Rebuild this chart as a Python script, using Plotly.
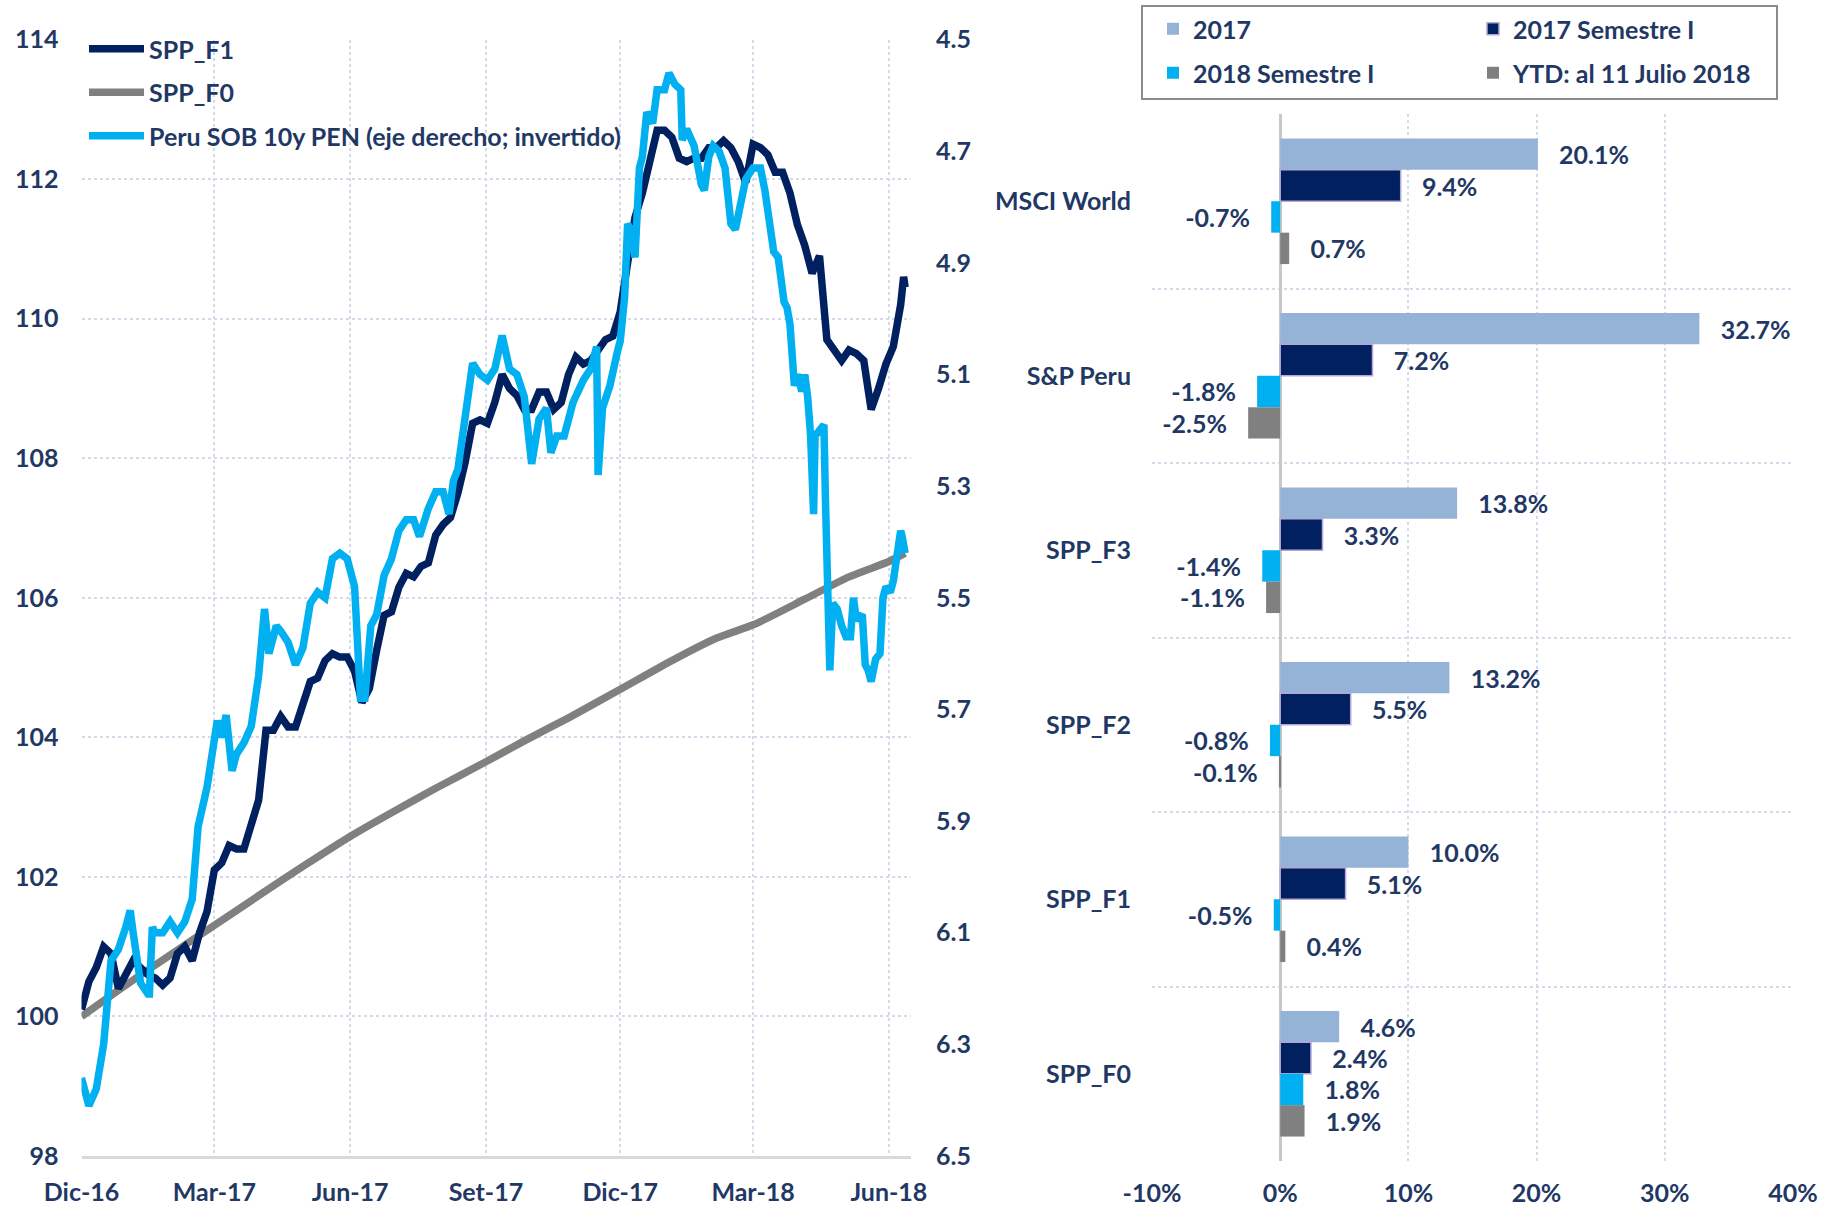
import pandas as pd
import plotly.graph_objects as go

# ---------------- DATA ----------------
BASE_DATE = "2016-12-30"

# SPP_F1 (left axis), sampled every 5 days from 30-Dec-2016
f1_days = list(range(0, 556, 5)) + [557, 558]
f1_vals = [
    100.1, 100.5, 100.7, 101.0, 100.9, 100.4, 100.6, 100.8, 100.7, 100.6,
    100.55, 100.45, 100.55, 100.9, 101.0, 100.8, 101.2, 101.5, 102.1, 102.2,
    102.45, 102.4, 102.4, 102.75, 103.1, 104.1, 104.1, 104.3, 104.15, 104.15,
    104.45, 104.8, 104.85, 105.1, 105.2, 105.15, 105.15, 104.95, 104.5, 104.7,
    105.25, 105.75, 105.8, 106.15, 106.35, 106.3, 106.45, 106.5, 106.9, 107.05,
    107.15, 107.5, 107.95, 108.5, 108.55, 108.5, 108.8, 109.2, 109.0, 108.9,
    108.7, 108.7, 108.95, 108.95, 108.7, 108.8, 109.2, 109.45, 109.35, 109.4,
    109.55, 109.7, 109.75, 110.1, 110.8, 111.45, 111.8, 112.3, 112.7, 112.7,
    112.6, 112.3, 112.25, 112.3, 112.3, 112.45, 112.45, 112.55, 112.45, 112.25,
    111.95, 112.5, 112.45, 112.35, 112.1, 112.1, 111.8, 111.35, 111.05, 110.65,
    110.9, 109.7, 109.55, 109.4, 109.55, 109.5, 109.4, 108.7, 109.0, 109.35,
    109.6, 110.2, 110.6, 110.45,
]

# SPP_F0 (left axis)
f0_days = [0, 30, 60, 91, 120, 150, 182, 210, 240, 274, 300, 330, 366, 400,
           430, 456, 490, 520, 547, 558]
f0_vals = [100.0, 100.45, 100.88, 101.32, 101.73, 102.15, 102.58, 102.92,
           103.27, 103.65, 103.95, 104.28, 104.7, 105.1, 105.42, 105.62,
           105.98, 106.3, 106.52, 106.64]

# Peru SOB 10y PEN yield (right axis, inverted)
sob_days = [
    0, 5, 10, 15, 20, 25, 30, 33, 35, 40, 45, 46, 48, 50, 55, 60, 65, 70, 75, 79,
    85, 90, 92, 95, 98, 102, 105, 110, 115, 120, 124, 127, 132, 135, 140, 145, 150,
    155, 160, 165, 170, 175, 180, 185, 189, 192, 196, 200, 205, 210, 215, 220, 225,
    229, 235, 240, 245, 249, 252, 255, 260, 265, 270, 275, 280, 285, 290, 295, 300,
    302, 305, 310, 315, 318, 322, 327, 333, 340, 345, 349, 350, 353, 358, 363, 365,
    368, 370, 372, 375, 378, 380, 383, 387, 390, 395, 398, 402, 406, 407, 410, 415,
    420, 422, 425, 428, 432, 436, 438, 440, 443, 446, 450, 455, 460, 463, 466, 469,
    472, 476, 478, 480, 483, 485, 488, 490, 492, 494, 496, 497, 500, 503, 504, 506,
    507, 509, 512, 515, 518, 521, 523, 525, 529, 531, 533, 535, 538, 541, 543, 545,
    548, 550, 553, 555, 556, 558,
]
sob_yld = [
    6.36, 6.41, 6.38, 6.30, 6.15, 6.13, 6.09, 6.06, 6.10, 6.19, 6.21, 6.21, 6.09,
    6.10, 6.10, 6.08, 6.10, 6.08, 6.04, 5.91,
    5.84, 5.74, 5.72, 5.75, 5.71, 5.81, 5.78, 5.76, 5.73, 5.64, 5.52, 5.60, 5.55,
    5.56, 5.58, 5.62, 5.59,
    5.51, 5.49, 5.50, 5.43, 5.42, 5.43, 5.48, 5.68, 5.68, 5.55, 5.53, 5.46, 5.43,
    5.38, 5.36, 5.36,
    5.39, 5.34, 5.31, 5.31, 5.35, 5.29, 5.27, 5.17, 5.08, 5.10, 5.11, 5.09, 5.03,
    5.09, 5.10, 5.14,
    5.20, 5.26, 5.18, 5.16, 5.24, 5.21, 5.21, 5.15, 5.11, 5.09, 5.05, 5.28, 5.16,
    5.12, 5.06, 5.04,
    4.96, 4.83, 4.84, 4.89, 4.73, 4.71, 4.63, 4.65, 4.59, 4.59, 4.56, 4.58, 4.59,
    4.68, 4.66, 4.69,
    4.76, 4.77, 4.71, 4.69, 4.70, 4.73, 4.78, 4.83, 4.84, 4.80, 4.75, 4.73, 4.73,
    4.77, 4.82, 4.88,
    4.89, 4.97, 4.98, 5.01, 5.12, 5.10, 5.13, 5.10, 5.14, 5.21, 5.35, 5.21, 5.20,
    5.19, 5.32, 5.49,
    5.63, 5.51, 5.52, 5.55, 5.57, 5.57, 5.50, 5.54, 5.53, 5.62, 5.63, 5.65, 5.61,
    5.60, 5.50, 5.48,
    5.49, 5.47, 5.41, 5.38, 5.39, 5.42,
]

x_tick_dates = ["2016-12-30", "2017-03-30", "2017-06-30", "2017-09-30",
                "2017-12-30", "2018-03-30", "2018-06-30"]
x_tick_text = ["Dic-16", "Mar-17", "Jun-17", "Set-17", "Dic-17", "Mar-18", "Jun-18"]

bar_categories = ["MSCI World", "S&P Peru", "SPP_F3", "SPP_F2", "SPP_F1", "SPP_F0"]
bar_2017 = [20.1, 32.7, 13.8, 13.2, 10.0, 4.6]
bar_2017_s1 = [9.4, 7.2, 3.3, 5.5, 5.1, 2.4]
bar_2018_s1 = [-0.7, -1.8, -1.4, -0.8, -0.5, 1.8]
bar_ytd = [0.7, -2.5, -1.1, -0.1, 0.4, 1.9]

bar_x_ticks = [-10, 0, 10, 20, 30, 40]
bar_x_tick_text = ["-10%", "0%", "10%", "20%", "30%", "40%"]

# ---------------- STYLE ----------------
TXT = "#1F3864"
GRID = "#D3DBEA"
FONT = "Lato"
NAVY = "#002060"
GREY = "#808080"
CYAN = "#00B0F0"
LIGHT = "#95B3D7"
LW = 7.5


def to_dates(days):
    return pd.Timestamp(BASE_DATE) + pd.to_timedelta(days, unit="D")


fig = go.Figure()

fig.add_trace(go.Scatter(x=to_dates(f0_days), y=f0_vals, name="SPP_F0", mode="lines",
                         line=dict(color=GREY, width=LW, shape="spline", smoothing=0.6),
                         legendrank=2, legendgroup="f0",
                         xaxis="x", yaxis="y", legend="legend"))
fig.add_trace(go.Scatter(x=to_dates(f1_days), y=f1_vals, name="SPP_F1", mode="lines",
                         line=dict(color=NAVY, width=LW), legendrank=1, legendgroup="f1",
                         xaxis="x", yaxis="y", legend="legend"))
fig.add_trace(go.Scatter(x=to_dates(sob_days), y=sob_yld,
                         name="Peru SOB 10y PEN (eje derecho; invertido)", mode="lines",
                         line=dict(color=CYAN, width=LW), legendrank=3, legendgroup="sob",
                         xaxis="x", yaxis="y2", legend="legend"))

cat_pos = list(range(len(bar_categories)))
NB = "\u00a0\u00a0\u00a0"


def labels(vals):
    return [(NB + f"{v:.1f}%") if v >= 0 else (f"{v:.1f}%" + NB) for v in vals]


bar_series = [
    ("2017", bar_2017, LIGHT, dict(color=LIGHT, width=0), "legend2"),
    ("2017 Semestre I", bar_2017_s1, NAVY, dict(color="#B4A7D6", width=1.5), "legend2"),
    ("2018 Semestre I", bar_2018_s1, CYAN, dict(color=CYAN, width=0), "legend3"),
    ("YTD: al 11 Julio 2018", bar_ytd, GREY, dict(color=GREY, width=0), "legend3"),
]
for name, vals, col, ln, lg in bar_series:
    fig.add_trace(go.Bar(y=cat_pos, x=vals, orientation="h", name=name,
                         marker=dict(color=col, line=ln),
                         text=labels(vals), textposition="outside",
                         textfont=dict(family=FONT, size=25, color=TXT, weight="bold"),
                         cliponaxis=False, constraintext="none",
                         xaxis="x3", yaxis="y3", legend=lg))

W, H = 1825, 1208
tickfont = dict(family=FONT, size=25, color=TXT, weight="bold")

bar_legend = dict(xanchor="left", yanchor="top", orientation="h",
                  entrywidth=275, entrywidthmode="pixels",
                  bgcolor="rgba(0,0,0,0)", borderwidth=0,
                  font=tickfont, traceorder="normal")

fig.update_layout(
    width=W, height=H,
    margin=dict(l=0, r=0, t=0, b=0, autoexpand=False),
    paper_bgcolor="white", plot_bgcolor="white",
    font=dict(family=FONT, size=25, color=TXT, weight="bold"),
    barmode="group", bargap=0.28, bargroupgap=0,
    xaxis=dict(domain=[81.5 / W, 911 / W], type="date",
               range=["2016-12-30", "2018-07-15"],
               tickmode="array", tickvals=x_tick_dates, ticktext=x_tick_text,
               showgrid=True, gridcolor=GRID, griddash="dot", gridwidth=1.5,
               showline=True, linecolor="#D9D9D9", linewidth=3,
               zeroline=False, ticks="", tickfont=tickfont, automargin=False,
               ticklabelstandoff=12, anchor="y"),
    yaxis=dict(domain=[(H - 1156) / H, (H - 39.6) / H], range=[98, 114],
               tickmode="linear", tick0=98, dtick=2,
               showgrid=True, gridcolor=GRID, griddash="dot", gridwidth=1.5,
               zeroline=False, ticks="", tickfont=tickfont, automargin=False,
               ticklabelstandoff=22, anchor="x"),
    yaxis2=dict(overlaying="y", side="right", range=[6.5, 4.5],
                tickmode="linear", tick0=4.5, dtick=0.2, tickformat=".1f",
                showgrid=False, zeroline=False, ticks="", tickfont=tickfont,
                automargin=False, ticklabelstandoff=24, anchor="x"),
    xaxis3=dict(domain=[1152 / W, 1793 / W], range=[-10, 40],
                tickmode="array", tickvals=bar_x_ticks, ticktext=bar_x_tick_text,
                showgrid=True, gridcolor=GRID, griddash="dot", gridwidth=1.5,
                zeroline=True, zerolinecolor="#C8C8C8", zerolinewidth=2.5,
                ticks="", tickfont=tickfont, automargin=False,
                ticklabelstandoff=15, anchor="y3"),
    yaxis3=dict(domain=[(H - 1161) / H, (H - 114) / H], range=[5.5, -0.5],
                tickmode="array", tickvals=cat_pos, ticktext=bar_categories,
                showgrid=False, zeroline=False, ticks="", tickfont=tickfont,
                automargin=False, ticklabelstandoff=20, anchor="x3",
                minor=dict(tickmode="array", tickvals=[-0.5, 0.5, 1.5, 2.5, 3.5, 4.5, 5.5],
                           showgrid=True, gridcolor=GRID, griddash="dot", gridwidth=1.5,
                           ticks="")),
    legend=dict(x=84 / W, y=1 - 26 / H, xanchor="left", yanchor="top",
                bgcolor="rgba(0,0,0,0)", font=tickfont, itemwidth=55,
                traceorder="grouped", tracegroupgap=8),
    legend2=dict(bar_legend, x=1153 / W, y=1 - 6 / H),
    legend3=dict(bar_legend, x=1153 / W, y=1 - 50 / H),
    shapes=[dict(type="rect", xref="paper", yref="paper",
                 x0=1142 / W, x1=1777 / W, y0=1 - 99 / H, y1=1 - 6 / H,
                 line=dict(color="#8C8C8C", width=2), fillcolor="rgba(0,0,0,0)",
                 layer="below")],
    showlegend=True,
)

fig.write_html("out.html", config={"displayModeBar": False},
               post_script="document.body.style.margin='0px';")
